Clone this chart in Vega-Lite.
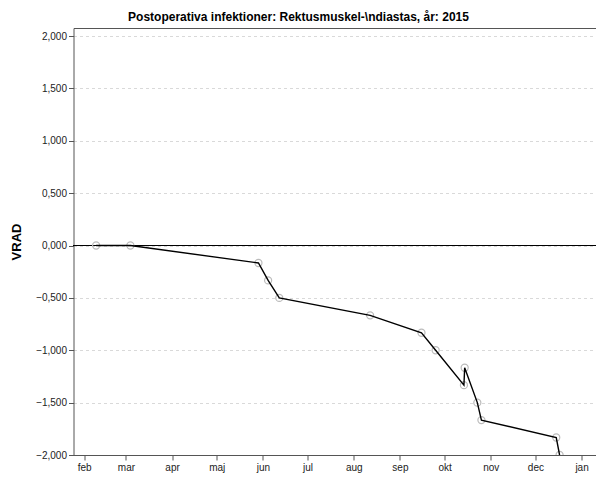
{
  "$schema": "https://vega.github.io/schema/vega-lite/v6.json",
  "width": 524,
  "height": 427,
  "autosize": {"type": "none"},
  "padding": {"left": 73.5, "top": 28, "right": 0, "bottom": 22},
  "background": "white",
  "config": {
    "font": "Liberation Sans",
    "view": {"stroke": null}
  },
  "title": {
    "text": "Postoperativa infektioner: Rektusmuskel-\\ndiastas, år: 2015",
    "fontSize": 12,
    "fontWeight": "bold",
    "font": "Liberation Sans",
    "color": "#000000",
    "anchor": "middle",
    "dx": -37,
    "offset": 4
  },
  "data": {
    "values": [
      {"datum": "2015-02-09T00:00:00Z", "vrad": 0.0},
      {"datum": "2015-03-04T00:00:00Z", "vrad": 0.0},
      {"datum": "2015-05-29T00:00:00Z", "vrad": -0.167},
      {"datum": "2015-06-04T12:00:00Z", "vrad": -0.333},
      {"datum": "2015-06-12T00:00:00Z", "vrad": -0.5},
      {"datum": "2015-08-12T00:00:00Z", "vrad": -0.667},
      {"datum": "2015-09-15T12:00:00Z", "vrad": -0.833},
      {"datum": "2015-09-25T00:00:00Z", "vrad": -1.0},
      {"datum": "2015-10-14T00:00:00Z", "vrad": -1.333},
      {"datum": "2015-10-14T12:00:00Z", "vrad": -1.167},
      {"datum": "2015-10-23T00:00:00Z", "vrad": -1.5},
      {"datum": "2015-10-25T18:00:00Z", "vrad": -1.667},
      {"datum": "2015-12-15T00:00:00Z", "vrad": -1.833},
      {"datum": "2015-12-17T06:00:00Z", "vrad": -2.0}
    ]
  },
  "encoding": {
    "y": {
      "field": "vrad",
      "type": "quantitative",
      "scale": {"domain": [-2, 2.0764], "nice": false, "zero": false},
      "axis": {
        "title": "VRAD",
        "titleFontSize": 13,
        "titleFontWeight": "bold",
        "titleColor": "#000000",
        "titlePadding": 12,
        "values": [-2, -1.5, -1, -0.5, 0, 0.5, 1, 1.5, 2],
        "labelExpr": "replace(format(datum.value, '.3f'), '.', ',')",
        "labelFontSize": 10,
        "labelColor": "#222222",
        "labelPadding": 2,
        "tickSize": 5,
        "tickColor": "#555555",
        "domainColor": "#555555",
        "grid": true,
        "gridColor": "#d9d9d9",
        "gridDash": [3, 3],
        "labelFlush": false
      }
    }
  },
  "resolve": {"axis": {"x": "independent"}},
  "layer": [
    {
      "mark": {"type": "rule", "color": "#000000", "strokeWidth": 1},
      "encoding": {"y": {"datum": 0}}
    },
    {
      "mark": {"type": "point", "shape": "circle", "filled": false, "color": "#bbbbbb", "size": 50, "strokeWidth": 1.2, "opacity": 1, "clip": true},
      "encoding": {
        "x": {
          "field": "datum",
          "type": "temporal",
          "scale": {
            "type": "utc",
            "domain": [
              {"year": 2015, "month": 1, "date": 24, "hours": 19, "utc": true},
              {"year": 2016, "month": 1, "date": 11, "hours": 17, "utc": true}
            ]
          },
          "axis": {
            "orient": "top",
            "title": null,
            "labels": false,
            "ticks": false,
            "grid": false,
            "domain": true,
            "domainColor": "#555555"
          }
        }
      }
    },
    {
      "mark": {"type": "line", "color": "#000000", "strokeWidth": 1.4, "clip": true},
      "encoding": {
        "x": {
          "field": "datum",
          "type": "temporal",
          "axis": {
            "orient": "bottom",
            "title": null,
            "values": [
              {"year": 2015, "month": 2, "date": 1, "utc": true},
              {"year": 2015, "month": 3, "date": 1, "utc": true},
              {"year": 2015, "month": 4, "date": 1, "utc": true},
              {"year": 2015, "month": 5, "date": 1, "utc": true},
              {"year": 2015, "month": 6, "date": 1, "utc": true},
              {"year": 2015, "month": 7, "date": 1, "utc": true},
              {"year": 2015, "month": 8, "date": 1, "utc": true},
              {"year": 2015, "month": 9, "date": 1, "utc": true},
              {"year": 2015, "month": 10, "date": 1, "utc": true},
              {"year": 2015, "month": 11, "date": 1, "utc": true},
              {"year": 2015, "month": 12, "date": 1, "utc": true},
              {"year": 2016, "month": 1, "date": 1, "utc": true}
            ],
            "labelExpr": "['jan','feb','mar','apr','maj','jun','jul','aug','sep','okt','nov','dec'][utcmonth(datum.value)]",
            "grid": false,
            "domainColor": "#555555",
            "tickColor": "#555555",
            "tickSize": 5,
            "labelFontSize": 10,
            "labelColor": "#222222",
            "labelPadding": 2,
            "labelFlush": false,
            "labelOverlap": false
          }
        }
      }
    }
  ]
}
